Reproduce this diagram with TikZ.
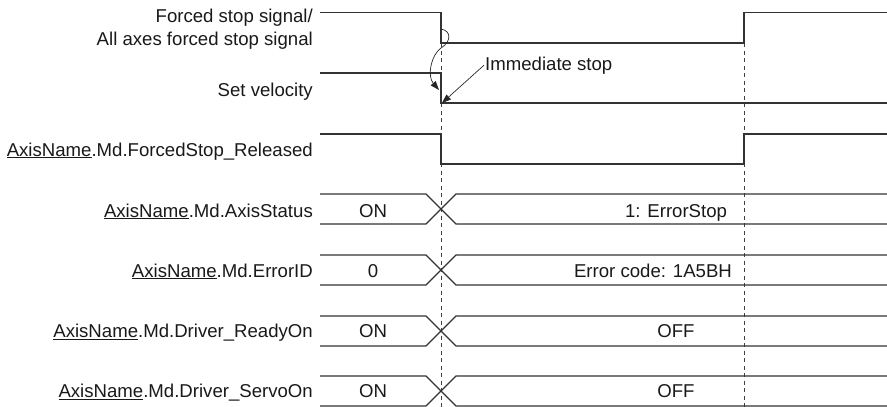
\documentclass[tikz,border=0pt]{standalone}
\usepackage{fontspec}
\setmainfont{Liberation Sans}
\usepackage{tikz}
\usetikzlibrary{arrows.meta,positioning}

\newcommand{\axn}{\underline{AxisName}}

\begin{document}
\begin{tikzpicture}[
    x=1pt, y=-1pt,
    >={Triangle[length=9pt,width=6.5pt]},
    font={\fontsize{18.6}{22.3}\selectfont},
    lbl/.style={
        anchor=base east,
        inner sep=0pt,
        align=right,
        text=black!90
    },
    val/.style={
        anchor=base,
        inner sep=0pt,
        text=black!90
    },
    sig/.style={
        line width=1.1pt,
        draw=black!80,
        line join=miter
    },
    guide/.style={
        dash pattern=on 4pt off 3.5pt,
        line width=0.7pt,
        draw=black!75
    },
    arr/.style={->, line width=0.7pt, draw=black!85}
]
\useasboundingbox (0,0) rectangle (887,407);

% timing guides
\draw[guide] (441,43) -- (441,407);
\draw[guide] (744,43) -- (744,407);

% forced stop signal
\node[lbl] (fstop) at (313,45)
{Forced stop signal/\\All axes forced stop signal};
\draw[sig] (320,12.5) -- (441,12.5) -- (441,43) -- (744,43) -- (744,12.5) -- (887,12.5);

% set velocity
\node[lbl] (setvel) at (313,96) {Set velocity};
\draw[sig] (320,73) -- (441,73) -- (441,103) -- (887,103);

% forced stop released
\node[lbl] (released) at (313,156) {\axn.Md.ForcedStop\_Released};
\draw[sig] (320,134) -- (441,134) -- (441,164) -- (744,164) -- (744,134) -- (887,134);

% axis status
\node[lbl] (status) at (313,217) {\axn.Md.AxisStatus};
\draw[sig] (320,194) -- (426,194) -- (456,224) -- (887,224);
\draw[sig] (320,224) -- (426,224) -- (456,194) -- (887,194);
\node[val] (statuson) at (373,217) {ON};
\node[val] (statuserr) at (676,217) {1: ErrorStop};

% error id
\node[lbl] (errid) at (313,277) {\axn.Md.ErrorID};
\draw[sig] (320,255) -- (426,255) -- (456,285) -- (887,285);
\draw[sig] (320,285) -- (426,285) -- (456,255) -- (887,255);
\node[val] (erridzero) at (373,277) {0};
\node[val] (erridcode) at (653,277) {Error code: 1A5BH};

% driver ready on
\node[lbl] (ready) at (313,337.5) {\axn.Md.Driver\_ReadyOn};
\draw[sig] (320,316) -- (426,316) -- (456,346) -- (887,346);
\draw[sig] (320,346) -- (426,346) -- (456,316) -- (887,316);
\node[val] (readyon) at (373,337.5) {ON};
\node[val] (readyoff) at (676,337.5) {OFF};

% driver servo on
\node[lbl] (servo) at (313,397.5) {\axn.Md.Driver\_ServoOn};
\draw[sig] (320,376) -- (426,376) -- (456,406) -- (887,406);
\draw[sig] (320,406) -- (426,406) -- (456,376) -- (887,376);
\node[val] (servoon) at (373,397.5) {ON};
\node[val] (servooff) at (676,397.5) {OFF};

% arrows
\coordinate (wstart) at (441,29);
\coordinate (wend) at (439,90);
\coordinate (vstop) at (442,103);
\node[anchor=base west, inner sep=1pt, text=black!90] (imstop) at (484,70) {Immediate stop};

\draw[arr] (wstart) .. controls (452,31) and (451,42) .. (441,48)
    .. controls (431,55) and (427,76) .. (wend);
\draw[arr] (imstop.west) -- (vstop);

\end{tikzpicture}
\end{document}
